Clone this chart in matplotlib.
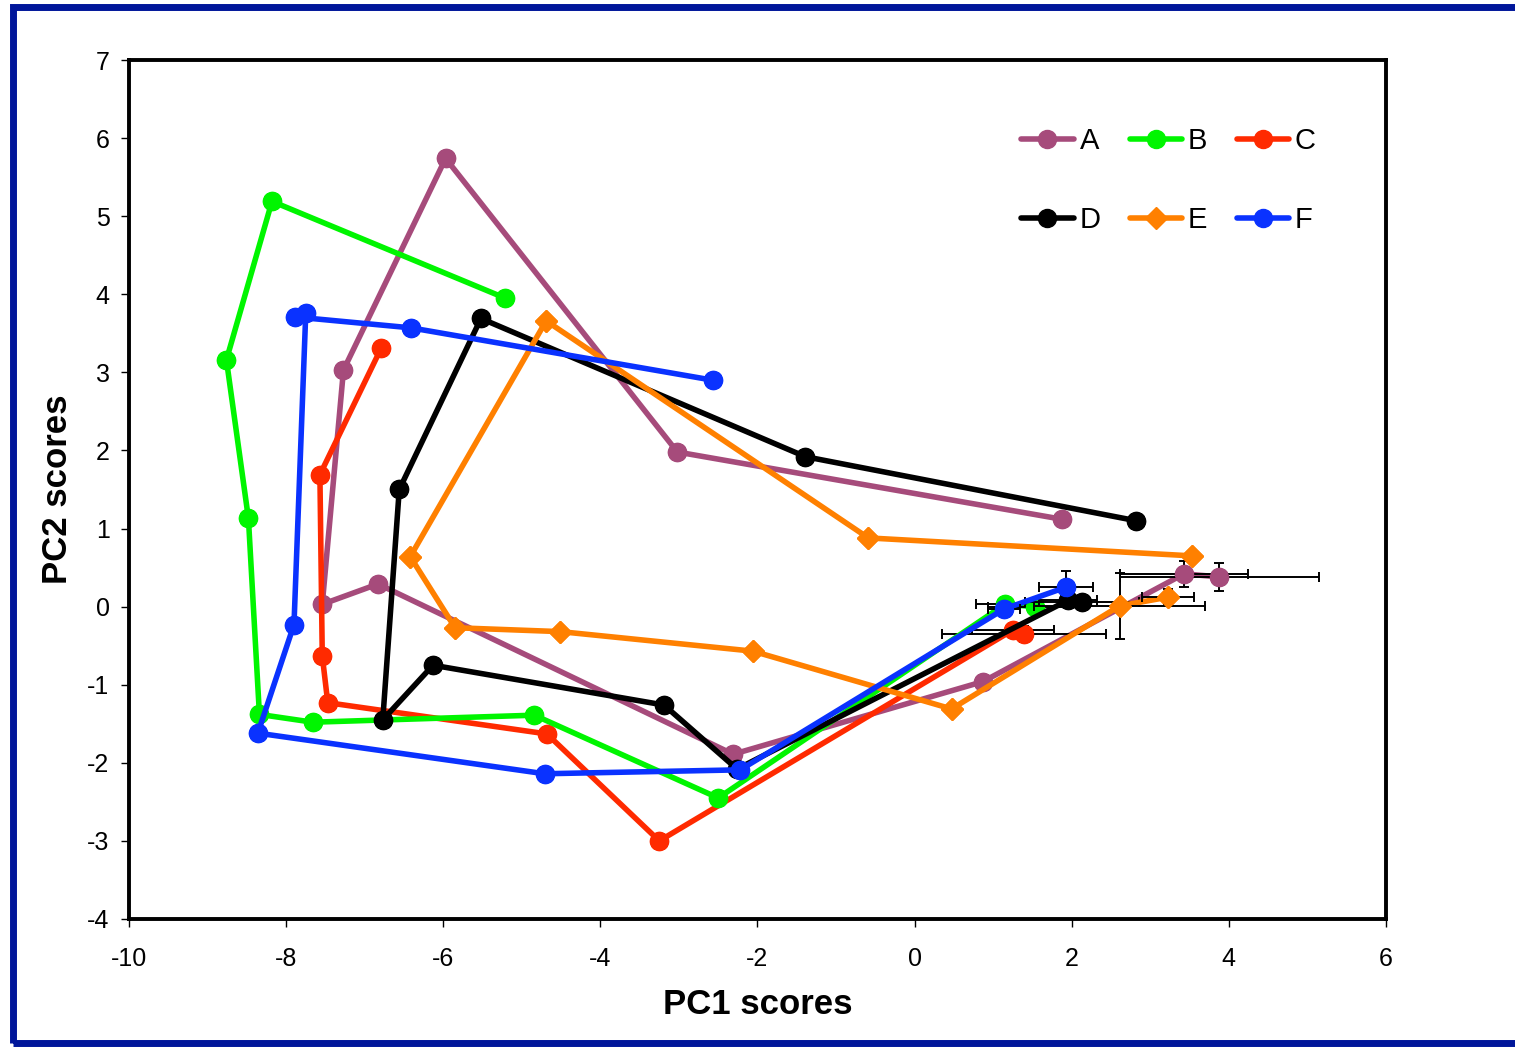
import matplotlib
matplotlib.use("Agg")
import matplotlib.pyplot as plt
from matplotlib.patches import Rectangle

plt.rcParams['font.family'] = ['Liberation Sans', 'DejaVu Sans']
plt.rcParams['axes.unicode_minus'] = False

# series data (PC1, PC2); last two points carry error bars
names = ['A', 'B', 'C', 'D', 'E', 'F']
ax_ = [1.87, -3.02, -5.97, -7.27, -7.54, -6.83, -2.31, 0.87, 3.43, 3.88]
ay_ = [1.12, 1.98, 5.74, 3.03, 0.03, 0.29, -1.89, -0.96, 0.42, 0.38]
bx_ = [-5.21, -8.18, -8.76, -8.48, -8.34, -7.66, -4.84, -2.50, 1.15, 1.53]
by_ = [3.95, 5.19, 3.16, 1.13, -1.38, -1.48, -1.39, -2.45, 0.03, 0.00]
cx_ = [-6.79, -7.57, -7.54, -7.47, -4.68, -3.25, 1.25, 1.39]
cy_ = [3.31, 1.69, -0.63, -1.23, -1.63, -3.00, -0.30, -0.35]
dx_ = [2.82, -1.39, -5.52, -6.56, -6.77, -6.13, -3.19, -2.26, 1.95, 2.13]
dy_ = [1.10, 1.92, 3.69, 1.50, -1.45, -0.75, -1.26, -2.08, 0.08, 0.06]
ex_ = [3.53, -0.59, -4.69, -6.42, -5.85, -4.51, -2.06, 0.47, 2.61, 3.22]
ey_ = [0.65, 0.88, 3.66, 0.64, -0.27, -0.32, -0.57, -1.31, 0.01, 0.12]
fx_ = [-2.57, -6.41, -7.89, -7.75, -7.90, -8.36, -4.71, -2.22, 1.14, 1.93]
fy_ = [2.90, 3.57, 3.71, 3.76, -0.23, -1.62, -2.14, -2.09, -0.03, 0.25]

# error bars on the last two points of each series
xerr_last = {'A': [0.81, 1.27], 'B': [0.37, 0.60], 'C': [0.52, 1.04],
             'D': [0.37, 0.72], 'E': [1.09, 0.33], 'F': [0.20, 0.345]}
yerr_last = {'A': [0.17, 0.18], 'B': [0.05, 0.05], 'C': [0.05, 0.10],
             'D': [0.05, 0.05], 'E': [0.42, 0.10], 'F': [0.05, 0.20]}

xs = {'A': ax_, 'B': bx_, 'C': cx_, 'D': dx_, 'E': ex_, 'F': fx_}
ys = {'A': ay_, 'B': by_, 'C': cy_, 'D': dy_, 'E': ey_, 'F': fy_}
colors = {'A': '#A64B7B', 'B': '#00F500', 'C': '#FF2A00',
          'D': '#000000', 'E': '#FF8000', 'F': '#0A32FF'}
markers = {'A': 'o', 'B': 'o', 'C': 'o', 'D': 'o', 'E': 'D', 'F': 'o'}
msizes = {'A': 13, 'B': 13, 'C': 13, 'D': 13, 'E': 11, 'F': 13}
draw_order = ['A', 'C', 'B', 'D', 'E', 'F']

fig = plt.figure(figsize=(15.15, 10.47), dpi=100)
ax = fig.add_axes([129 / 1515, 1 - 919 / 1047, 1257 / 1515, 859 / 1047])

handles = {}
for i, n in enumerate(draw_order):
    base = 2 + i
    h, = ax.plot(xs[n], ys[n], color=colors[n], lw=4, marker=markers[n],
                 ms=msizes[n], mec=colors[n], label=n, zorder=base,
                 solid_capstyle='round')
    handles[n] = h
    ax.errorbar(xs[n][-2:], ys[n][-2:], xerr=xerr_last[n], yerr=yerr_last[n],
                fmt='none', ecolor='black', elinewidth=1.4, capsize=3.8,
                capthick=1.4, zorder=base + 0.3)
    ax.plot(xs[n], ys[n], linestyle='none', marker=markers[n], ms=msizes[n],
            color=colors[n], mec=colors[n], zorder=base + 0.6)

ax.set_xlim(-10, 6)
ax.set_ylim(-4, 7)
ax.set_xticks(range(-10, 7, 2))
ax.set_yticks(range(-4, 8))
for s in ax.spines.values():
    s.set_linewidth(2.8)
ax.tick_params(direction='out', length=6, width=1, labelsize=18, pad=8)
ax.tick_params(axis='x', pad=14)

ax.set_xlabel('PC1 scores', fontsize=25, fontweight='bold')
ax.set_ylabel('PC2 scores', fontsize=25, fontweight='bold')
ax.xaxis.label.set_va('center')
ax.yaxis.label.set_va('center')
ax.xaxis.set_label_coords(0.5, -0.1)
ax.yaxis.set_label_coords(-0.057, 0.5)

order = ['A', 'D', 'B', 'E', 'C', 'F']
ax.legend([handles[n] for n in order], order, ncol=3, frameon=False,
          loc='center', bbox_to_anchor=(0.827, 0.8597), fontsize=21,
          handlelength=1.8, handletextpad=0.2, columnspacing=1.0,
          labelspacing=1.75, markerscale=1.0)

# navy outer frame (right side runs off the image)
fig.patches.append(Rectangle((13 / 1515, 4 / 1047), 1.05, 1 - 11 / 1047,
                             transform=fig.transFigure, fill=False,
                             edgecolor='#00169A', linewidth=5,
                             clip_on=False))

fig.savefig('out.png', dpi=100)
